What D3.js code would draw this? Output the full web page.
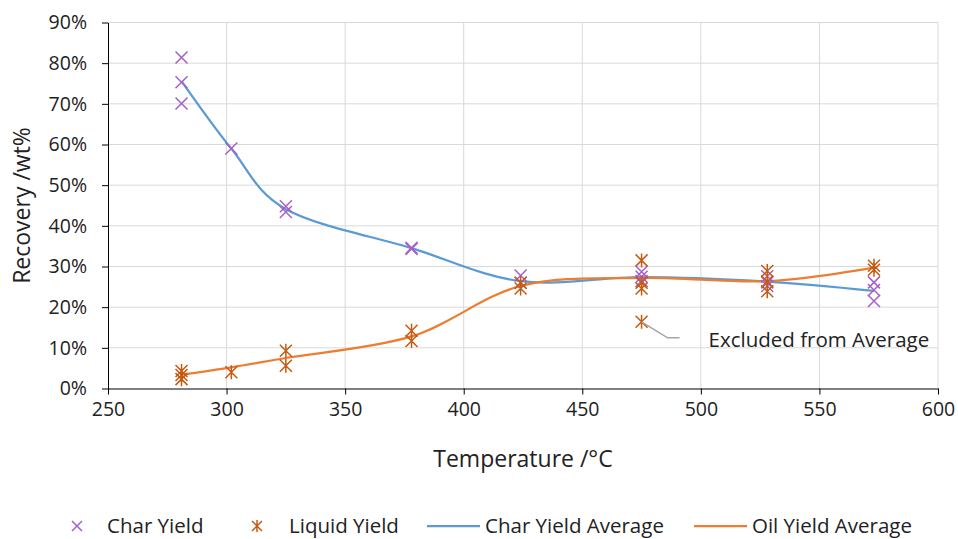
<!DOCTYPE html>
<meta charset="utf-8" />
<script src="https://d3js.org/d3.v7.js"></script>
<style>
	body { margin: 0; background: #fff; }
	text { font-family: "Open Sans", sans-serif; fill: #222; }
</style>
<div id="chart"></div>
<script>
	// Temperatures where the averages are drawn
	const temps = [281, 302, 325, 378, 424, 475, 528, 573];
	const charAvg = [75.6, 59.0, 44.1, 34.5, 26.4, 27.4, 26.3, 24.0];
	const oilAvg = [3.4, 5.2, 7.5, 12.8, 25.2, 27.2, 26.4, 29.7];

	// Individual runs
	const charT = [281, 281, 281, 302, 325, 325, 378, 378, 424, 424, 475, 475, 475, 528, 528, 528, 573, 573, 573];
	const charY = [81.4, 75.3, 70.1, 59.0, 44.8, 43.4, 34.6, 34.3, 27.8, 26.0, 28.7, 27.5, 26.4, 27.6, 25.2, 26.1, 26.1, 24.2, 21.5];
	const liqT = [281, 281, 281, 302, 325, 325, 378, 378, 424, 424, 475, 475, 475, 475, 528, 528, 528, 573, 573];
	const liqY = [4.3, 3.3, 2.3, 4.0, 9.3, 5.6, 14.2, 11.7, 26.0, 24.6, 31.5, 26.0, 24.6, 16.4, 28.9, 26.3, 23.9, 30.2, 29.2];

	const excluded = { t: 475, y: 16.4, label: "Excluded from Average" };

	const xTicks = [250, 300, 350, 400, 450, 500, 550, 600];
	const yTicks = [0, 10, 20, 30, 40, 50, 60, 70, 80, 90];

	const legendItems = ["Char Yield", "Liquid Yield", "Char Yield Average", "Oil Yield Average"];

	const charColor = "#A661C8";
	const liqColor = "#C55A11";
	const charLine = "#5B9BD5";
	const oilLine = "#ED7D31";

	const W = 958, H = 539;
	const margin = { top: 22.5, right: 20, bottom: 150.5, left: 108 };

	const svg = d3.select("#chart").append("svg")
		.attr("width", W)
		.attr("height", H);

	const x = d3.scaleLinear().domain([250, 600]).range([margin.left, W - margin.right]);
	const y = d3.scaleLinear().domain([0, 90]).range([H - margin.bottom, margin.top]);

	// gridlines
	svg.append("g")
		.selectAll("line.h")
		.data(yTicks.slice(1))
		.join("line")
		.attr("x1", x(250)).attr("x2", x(600))
		.attr("y1", d => y(d)).attr("y2", d => y(d))
		.attr("stroke", "#D9D9D9").attr("stroke-width", 1);
	svg.append("g")
		.selectAll("line.v")
		.data(xTicks.slice(1))
		.join("line")
		.attr("x1", d => x(d)).attr("x2", d => x(d))
		.attr("y1", y(0)).attr("y2", y(90))
		.attr("stroke", "#D9D9D9").attr("stroke-width", 1);

	// axes
	const xAxis = d3.axisBottom(x).tickValues(xTicks).tickSize(6).tickSizeOuter(0).tickPadding(8);
	const yAxis = d3.axisLeft(y).tickValues(yTicks).tickSize(6).tickSizeOuter(0).tickFormat(d => d + "%").tickPadding(15);

	svg.append("g")
		.attr("transform", `translate(0,${y(0)})`)
		.call(xAxis)
		.call(g => g.selectAll("text").style("font-size", "19.5px").attr("fill", "#222"));
	svg.append("g")
		.attr("transform", `translate(${x(250)},0)`)
		.call(yAxis)
		.call(g => g.selectAll("text").style("font-size", "19.5px").attr("fill", "#222"));

	// axis titles
	svg.append("text")
		.attr("x", (x(250) + x(600)) / 2)
		.attr("y", 467)
		.attr("text-anchor", "middle")
		.style("font-size", "23px")
		.text("Temperature /°C");
	svg.append("text")
		.attr("transform", `translate(30,${(y(0) + y(90)) / 2}) rotate(-90)`)
		.attr("text-anchor", "middle")
		.style("font-size", "23px")
		.text("Recovery /wt%");

	// smoothed average lines
	const line = d3.line()
		.x(d => x(d[0]))
		.y(d => y(d[1]))
		.curve(d3.curveCardinal.tension(0));

	svg.append("path")
		.datum(temps.map((t, i) => [t, charAvg[i]]))
		.attr("d", line)
		.attr("fill", "none")
		.attr("stroke", charLine)
		.attr("stroke-width", 2.25);
	svg.append("path")
		.datum(temps.map((t, i) => [t, oilAvg[i]]))
		.attr("d", line)
		.attr("fill", "none")
		.attr("stroke", oilLine)
		.attr("stroke-width", 2.25);

	// marker shapes
	const s = 6;
	const crossPath = `M${-s},${-s}L${s},${s}M${-s},${s}L${s},${-s}`;
	const starPath = crossPath + `M0,${-s - 1}L0,${s + 1}`;

	svg.append("g")
		.selectAll("path")
		.data(charT.map((t, i) => [t, charY[i]]))
		.join("path")
		.attr("transform", d => `translate(${x(d[0])},${y(d[1])})`)
		.attr("d", crossPath)
		.attr("fill", "none")
		.attr("stroke", charColor)
		.attr("stroke-width", 1.5);

	svg.append("g")
		.selectAll("path")
		.data(liqT.map((t, i) => [t, liqY[i]]))
		.join("path")
		.attr("transform", d => `translate(${x(d[0])},${y(d[1])})`)
		.attr("d", starPath)
		.attr("fill", "none")
		.attr("stroke", liqColor)
		.attr("stroke-width", 1.5);

	// annotation for excluded point
	const ex = x(excluded.t), ey = y(excluded.y);
	svg.append("path")
		.attr("d", `M${ex},${ey}L${ex + 26},${ey + 16}L${ex + 38},${ey + 16}`)
		.attr("fill", "none")
		.attr("stroke", "#A5A5A5")
		.attr("stroke-width", 1.5);
	svg.append("text")
		.attr("x", ex + 67)
		.attr("y", ey + 25)
		.style("font-size", "20.5px")
		.text(excluded.label);

	// legend
	const legendX = [77, 257, 427, 694];
	const lg = svg.append("g").attr("transform", "translate(0,526)");
	legendItems.forEach((name, i) => {
		const g = lg.append("g").attr("transform", `translate(${legendX[i]},0)`);
		if (i < 2) {
			g.append("path")
				.attr("d", i === 0 ? `M-5,-5L5,5M-5,5L5,-5` : `M-5,-5L5,5M-5,5L5,-5M0,-6L0,6`)
				.attr("fill", "none")
				.attr("stroke", i === 0 ? charColor : liqColor)
				.attr("stroke-width", 1.5);
			g.append("text").attr("x", i === 0 ? 30 : 32).attr("y", 7).style("font-size", "20.5px").text(name);
		} else {
			g.append("line")
				.attr("x1", 0).attr("x2", 53)
				.attr("stroke", i === 2 ? charLine : oilLine)
				.attr("stroke-width", 2.25);
			g.append("text").attr("x", 58).attr("y", 7).style("font-size", "20.5px").text(name);
		}
	});
</script>
